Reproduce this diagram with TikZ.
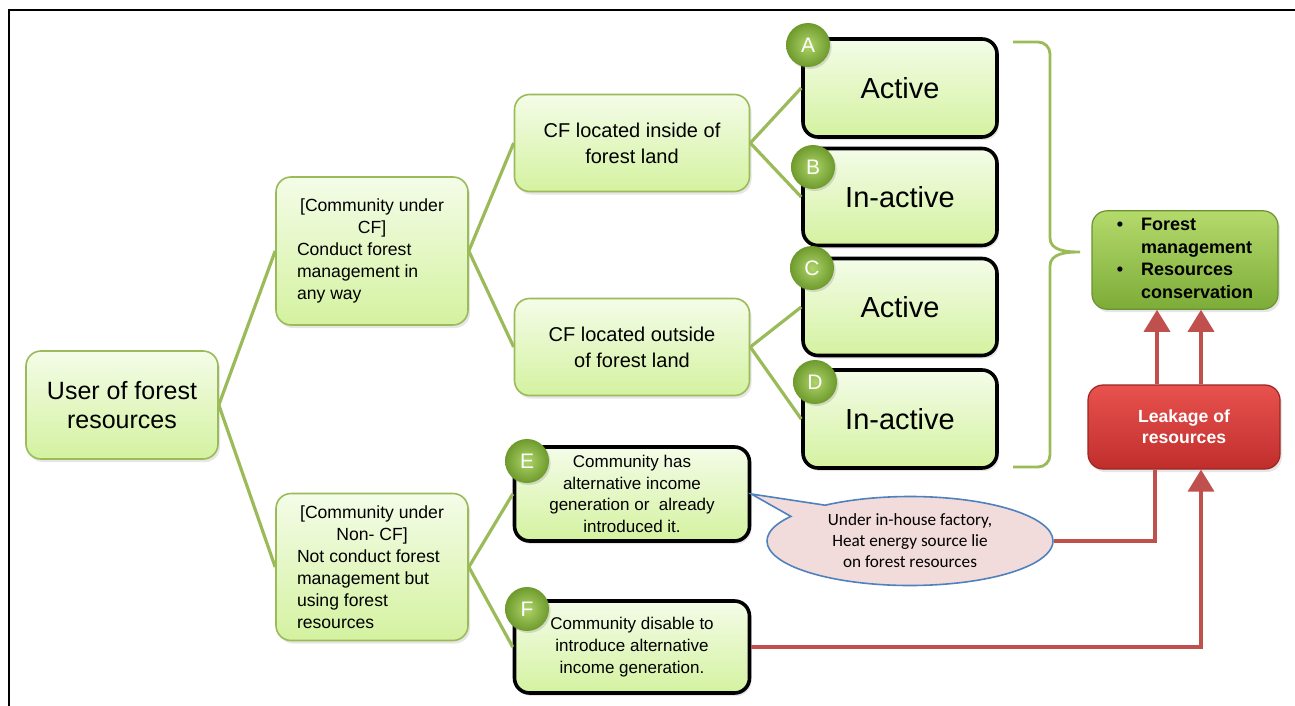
\documentclass[tikz,border=0pt]{standalone}
\usepackage{fontspec}
\setmainfont{Liberation Sans}
\newfontfamily\calibri{Carlito}
\usetikzlibrary{shapes.callouts,shadows,arrows.meta,calc}

\definecolor{leafgreen}{HTML}{9BBB59}
\definecolor{paletop}{HTML}{F4FCE8}
\definecolor{palebot}{HTML}{D4F2A0}
\definecolor{olivetop}{HTML}{B4DA6C}
\definecolor{olivebot}{HTML}{7DAC38}
\definecolor{ballin}{HTML}{AED46A}
\definecolor{ballout}{HTML}{6E9A2C}
\definecolor{brickred}{HTML}{C0504D}
\definecolor{redtop}{HTML}{E8524F}
\definecolor{redbot}{HTML}{C02E2B}
\definecolor{pinkfill}{HTML}{F2DCDB}
\definecolor{calloutblue}{HTML}{4F81BD}

\tikzset{
 greenbox/.style={rounded corners=7.5pt, draw=leafgreen, line width=0.8pt,
   top color=paletop, bottom color=palebot, align=center,
   drop shadow={opacity=0.2, shadow xshift=1pt, shadow yshift=-1.5pt}},
 blackbox/.style={greenbox, draw=black, line width=1.8pt},
 letter/.style={circle, minimum size=22pt, inner sep=0pt, inner color=ballin, outer color=ballout,
   drop shadow={opacity=0.25, shadow xshift=0.8pt, shadow yshift=-1pt},
   text=white, font=\fontsize{10.5}{12}\selectfont},
 branch/.style={leafgreen, line width=1.6pt},
 leak/.style={brickred, line width=1.8pt},
 leakarrow/.style={leak, -{Triangle[width=13pt,length=11pt]}},
}

\begin{document}
\begin{tikzpicture}[x=0.5pt,y=-0.5pt]
 \useasboundingbox (0,0) rectangle (1295,706);
 \draw[line width=1pt] (9,706) -- (9,10) -- (1295,10);

 \node[greenbox, minimum width=96pt, minimum height=54pt, font=\fontsize{12.5}{14.5}\selectfont] (user) at (122,405) {User of forest\\resources};
 \node[greenbox, text width=75pt, inner xsep=10.5pt, minimum height=74pt, align=none, font=\fontsize{8.8}{11}\selectfont] (cf) at (372,251)
   {{\centering [Community under\\ CF]\par}\raggedright Conduct forest\\ management in\\ any way\par};
 \node[greenbox, text width=75pt, inner xsep=10.5pt, minimum height=73.5pt, align=none, font=\fontsize{8.8}{11}\selectfont] (noncf) at (372,567)
   {{\centering [Community under\\ Non- CF]\par}\raggedright Not conduct forest\\ management but\\ using forest\\ resources\par};

 \node[greenbox, minimum width=117.5pt, minimum height=48.5pt, font=\fontsize{10}{13}\selectfont] (inside) at (632,143) {CF located inside of\\forest land};
 \node[greenbox, minimum width=117.5pt, minimum height=48.5pt, font=\fontsize{10}{13}\selectfont] (outside) at (632,347) {CF located outside\\of forest land};

 \node[blackbox, minimum width=97pt, minimum height=49pt, font=\fontsize{14.5}{17}\selectfont] (A) at (900,88) {Active};
 \node[blackbox, minimum width=97pt, minimum height=48.5pt, font=\fontsize{14.5}{17}\selectfont] (B) at (900,197) {In-active};
 \node[blackbox, minimum width=97pt, minimum height=48.5pt, font=\fontsize{14.5}{17}\selectfont] (C) at (900,307) {Active};
 \node[blackbox, minimum width=97pt, minimum height=49pt, font=\fontsize{14.5}{17}\selectfont] (D) at (900,419) {In-active};

 \node[blackbox, minimum width=117.5pt, minimum height=47pt, font=\fontsize{8.5}{10.8}\selectfont] (E) at (632,494) {Community has\\alternative income\\generation or\ \ already\\introduced it.};
 \node[blackbox, minimum width=117.5pt, minimum height=46pt, font=\fontsize{8.5}{10.8}\selectfont] (F) at (632,647) {Community disable to\\introduce alternative\\income generation.};

 \node[letter] (cA) at (808,45) {A};
 \node[letter] (cB) at (813,167) {B};
 \node[letter] (cC) at (812,268) {C};
 \node[letter] (cD) at (815,382) {D};
 \node[letter] (cE) at (527,461) {E};
 \node[letter] (cF) at (527,609) {F};

 \node[rounded corners=7.5pt, draw=olivebot!85!black, line width=0.6pt, top color=olivetop, bottom color=olivebot,
   minimum width=93pt, minimum height=48.5pt, inner sep=2pt, font=\bfseries\fontsize{9}{11.3}\selectfont,
   drop shadow={opacity=0.2, shadow xshift=1pt, shadow yshift=-1.5pt}] (fm) at (1185,260)
   {\begin{tabular}{@{}l@{\hspace{9pt}}l@{}}\textbullet & Forest\\ & management\\ \textbullet & Resources\\ & conservation\end{tabular}};
 \node[rounded corners=7.5pt, draw=redbot!80!black, line width=0.6pt, top color=redtop, bottom color=redbot,
   minimum width=96pt, minimum height=42pt, align=center, text=white, font=\bfseries\fontsize{8.8}{10.5}\selectfont,
   drop shadow={opacity=0.2, shadow xshift=1pt, shadow yshift=-1.5pt}] (leakbox) at (1184,427) {Leakage of\\resources};

 \node[ellipse callout, draw=calloutblue, fill=pinkfill, line width=0.8pt, minimum width=143pt, minimum height=44.5pt,
   inner sep=0pt, callout absolute pointer={(E.east)}, callout pointer arc=20, align=center,
   font=\calibri\fontsize{8.6}{10.5}\selectfont] (heat) at (910,541)
   {Under in-house factory,\\Heat energy source lie\\on forest resources};

 \draw[branch] (user.east) -- (cf.west);
 \draw[branch] (user.east) -- (noncf.west);
 \draw[branch] (cf.east) -- (inside.west);
 \draw[branch] (cf.east) -- (outside.west);
 \draw[branch] (inside.east) -- (A.west);
 \draw[branch] (inside.east) -- (B.west);
 \draw[branch] (outside.east) -- (C.west);
 \draw[branch] (outside.east) -- (D.west);
 \draw[branch] (noncf.east) -- (E.west);
 \draw[branch] (noncf.east) -- (F.west);

 \draw[branch, line width=1.4pt] (1013,42) -- (1038,42) to[out=0,in=90] (1050,54) -- (1050,238)
   to[out=-90,in=180] (1080,252) to[out=180,in=90] (1050,266) -- (1050,455) to[out=-90,in=0] (1038,467) -- (1013,467);

 \draw[leakarrow] ($(leakbox.north)+(-27,0)$) -- ($(fm.south)+(-28,0)$);
 \draw[leakarrow] ($(leakbox.north)+(17,0)$) -- ($(fm.south)+(16,0)$);
 \draw[leak] (heat.east) -| ($(leakbox.south)+(-29,0)$);
 \draw[leakarrow] (F.east) -| ($(leakbox.south)+(17,0)$);
\end{tikzpicture}
\end{document}
